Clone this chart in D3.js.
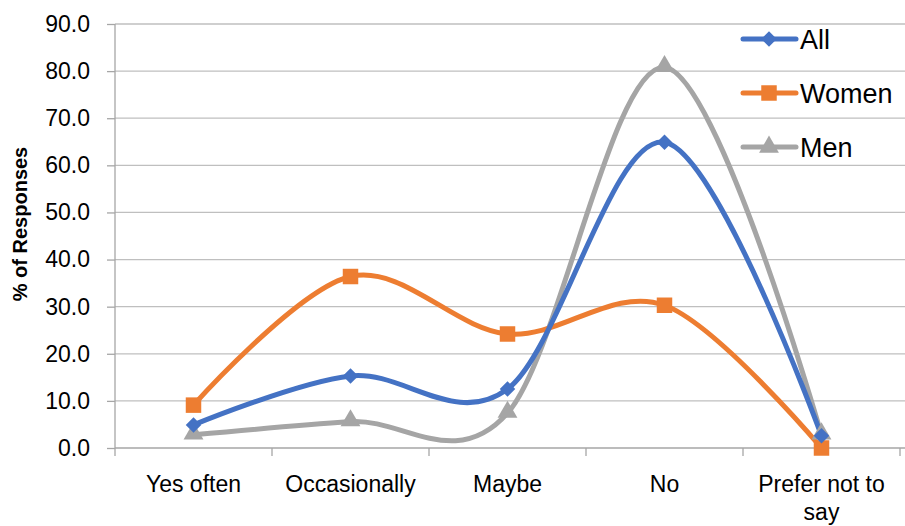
<!DOCTYPE html>
<html><head><meta charset="utf-8">
<script src="https://cdn.jsdelivr.net/npm/d3@7"></script>
<style>body{margin:0;background:#fff}svg{display:block}</style>
</head><body><svg id="c" width="905" height="526"></svg>
<script>
const categories = ["Yes often", "Occasionally", "Maybe", "No", "Prefer not to say"];
const allValues = [4.9, 15.3, 12.5, 64.9, 2.6];
const womenValues = [9.1, 36.4, 24.2, 30.3, 0.0];
const menValues = [2.8, 5.6, 7.4, 80.8, 2.8];
const yTicks = [0, 10, 20, 30, 40, 50, 60, 70, 80, 90];
const seriesNames = ["All", "Women", "Men"];

(function () {
const series = [
  {name: seriesNames[0], values: allValues, color: "#4472C4", marker: d3.symbolSquare, size: 120, rot: 45},
  {name: seriesNames[1], values: womenValues, color: "#ED7D31", marker: d3.symbolSquare, size: 240, rot: 0},
  {name: seriesNames[2], values: menValues, color: "#A5A5A5", marker: d3.symbolTriangle, size: 170, rot: 0}
];

const svg = d3.select("#c");
const font = "'Liberation Sans', Arial, sans-serif";
const mLeft = 115, mRight = 900, mTop = 24, mBottom = 448;

const x = d3.scaleBand().domain(categories).range([mLeft, mRight]).padding(0);
const y = d3.scaleLinear().domain([0, 90]).range([mBottom, mTop]);

// gridlines
svg.append("g").selectAll("line").data(yTicks.slice(1)).join("line")
  .attr("x1", mLeft).attr("x2", 905).attr("y1", d => y(d)).attr("y2", d => y(d))
  .attr("stroke", "#BFBFBF").attr("stroke-width", 1.3);

// y axis
const yAxis = svg.append("g").attr("transform", `translate(${mLeft},0)`)
  .call(d3.axisLeft(y).tickValues(yTicks).tickFormat(d3.format(".1f")).tickSize(8).tickPadding(17));
yAxis.select(".domain").attr("stroke", "#A6A6A6").attr("stroke-width", 1.3).attr("d", `M0,${y(90)}V${y(0)}`);
yAxis.selectAll(".tick line").attr("stroke", "#A6A6A6").attr("stroke-width", 1.3);
yAxis.selectAll(".tick text").attr("font-family", font).attr("font-size", 23).attr("fill", "#000");

// x axis
const xAxis = svg.append("g").attr("transform", `translate(0,${mBottom})`)
  .call(d3.axisBottom(x).tickSize(0).tickFormat(""));
xAxis.select(".domain").attr("stroke", "#A6A6A6").attr("stroke-width", 1.3).attr("d", `M${mLeft},0H905`);
xAxis.selectAll(".tick").remove();
const bounds = categories.map(c => x(c)).concat([mRight]);
svg.append("g").selectAll("line").data(bounds).join("line")
  .attr("x1", d => d).attr("x2", d => d).attr("y1", mBottom).attr("y2", mBottom + 8)
  .attr("stroke", "#A6A6A6").attr("stroke-width", 1.3);

// x labels
const lbl = svg.append("g").attr("font-family", font).attr("font-size", 23).attr("fill", "#000").attr("text-anchor", "middle");
categories.forEach(c => {
  const cx = x(c) + x.bandwidth() / 2;
  if (c === "Prefer not to say") {
    lbl.append("text").attr("x", cx).attr("y", 492).text("Prefer not to");
    lbl.append("text").attr("x", cx).attr("y", 520).text("say");
  } else {
    lbl.append("text").attr("x", cx).attr("y", 492).text(c);
  }
});

// y title
svg.append("text").attr("transform", "translate(27,224) rotate(-90)")
  .attr("text-anchor", "middle").attr("font-family", font).attr("font-weight", "bold")
  .attr("font-size", 20).attr("fill", "#000").text("% of Responses");

// lines
const line = d3.line().x((d, i) => x(categories[i]) + x.bandwidth() / 2).y(d => y(d)).curve(d3.curveCardinal.tension(0));
const sym = (s) => d3.symbol().type(s.marker).size(s.size)();

series.slice().reverse().forEach(s => {
  svg.append("path").datum(s.values).attr("d", line).attr("fill", "none")
    .attr("stroke", s.color).attr("stroke-width", 5).attr("stroke-linejoin", "round");
});
series.slice().reverse().forEach(s => {
  svg.append("g").selectAll("path").data(s.values).join("path")
    .attr("d", sym(s)).attr("fill", s.color)
    .attr("transform", (d, i) => `translate(${x(categories[i]) + x.bandwidth() / 2},${y(d)}) rotate(${s.rot})` + (s.marker === d3.symbolTriangle ? " translate(0,-1)" : ""));
});

// legend
const leg = svg.append("g");
series.forEach((s, i) => {
  const ly = 39 + i * 54;
  leg.append("line").attr("x1", 743).attr("x2", 796).attr("y1", ly).attr("y2", ly)
    .attr("stroke", s.color).attr("stroke-width", 5).attr("stroke-linecap", "round");
  leg.append("path").attr("d", sym(s)).attr("fill", s.color)
    .attr("transform", `translate(769,${ly}) rotate(${s.rot})`);
  leg.append("text").attr("x", 800).attr("y", ly + 10).attr("font-family", font).attr("font-size", 27)
    .attr("fill", "#000").text(s.name);
});
})();
</script></body></html>
